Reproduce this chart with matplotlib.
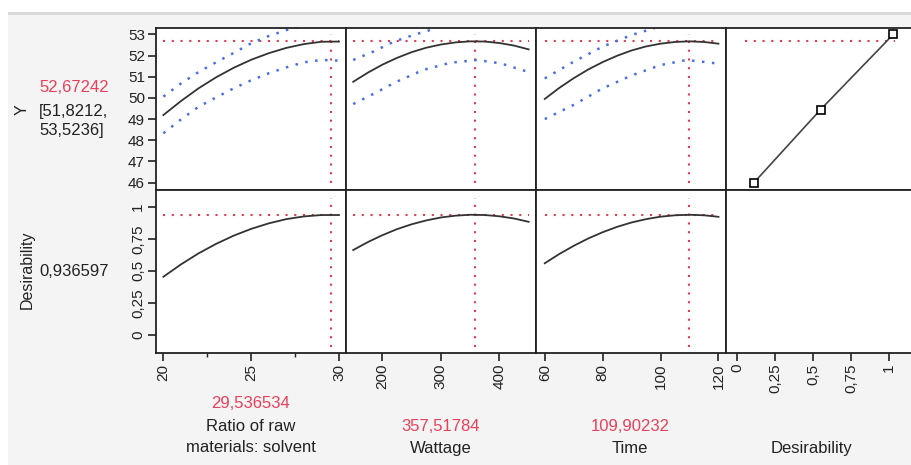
import matplotlib
matplotlib.use("Agg")
import matplotlib.pyplot as plt
from matplotlib.patches import Rectangle

plt.rcParams['font.family'] = ['Liberation Sans', 'DejaVu Sans']

# ---------------- data ----------------
opt_y = 52.67242
opt_d = 0.936597
ci_text = "[51,8212,\n53,5236]"

ratio_opt = 29.536534
ratio_x = [20, 21, 22, 23, 24, 25, 26, 27, 28, 29, 30]
ratio_y = [49.19, 49.85, 50.45, 50.97, 51.42, 51.80, 52.11, 52.36, 52.54, 52.65, 52.66]
ratio_up_x = [20, 21, 22, 23, 24, 25, 26, 27, 27.6]
ratio_up_y = [50.06, 50.68, 51.22, 51.68, 52.12, 52.58, 52.92, 53.20, 53.32]
ratio_lo_x = [20, 21, 22, 23, 24, 25, 26, 27, 28, 29, 30]
ratio_lo_y = [48.33, 48.98, 49.58, 50.02, 50.45, 50.83, 51.16, 51.44, 51.68, 51.79, 51.76]
ratio_d = [0.454, 0.550, 0.636, 0.710, 0.774, 0.827, 0.870, 0.903, 0.924, 0.935, 0.935]

watt_opt = 357.51784
watt_x = [150, 175, 200, 225, 250, 275, 300, 325, 350, 375, 400, 425, 450]
watt_y = [50.76, 51.19, 51.57, 51.89, 52.16, 52.37, 52.52, 52.62, 52.67, 52.66, 52.59, 52.47, 52.29]
watt_up_x = [150, 184, 219, 253, 293]
watt_up_y = [51.79, 52.18, 52.65, 52.97, 53.30]
watt_lo_x = [150, 184, 224, 270, 316, 362, 402, 450]
watt_lo_y = [49.71, 50.18, 50.76, 51.32, 51.66, 51.79, 51.63, 51.22]
watt_d = [0.662, 0.724, 0.778, 0.825, 0.863, 0.893, 0.916, 0.930, 0.937, 0.935, 0.925, 0.908, 0.882]

time_opt = 109.90232
time_x = [60, 65, 70, 75, 80, 85, 90, 95, 100, 105, 110, 115, 120]
time_y = [49.95, 50.47, 50.93, 51.34, 51.69, 51.99, 52.24, 52.43, 52.56, 52.64, 52.67, 52.64, 52.56]
time_up_x = [60, 70, 80, 90, 98]
time_up_y = [50.92, 51.71, 52.42, 52.97, 53.30]
time_lo_x = [60, 70, 80, 90, 100, 109, 118, 120]
time_lo_y = [49.00, 49.67, 50.45, 51.06, 51.55, 51.79, 51.65, 51.60]
time_d = [0.559, 0.631, 0.695, 0.752, 0.801, 0.843, 0.877, 0.903, 0.922, 0.933, 0.937, 0.933, 0.921]

des_x = [0.11, 0.55, 1.03]
des_y = [46, 49.45, 53]

factor_labels = ["Ratio of raw\nmaterials: solvent", "Wattage", "Time", "Desirability"]
factor_values = ["29,536534", "357,51784", "109,90232", None]

y_ticks = [46, 47, 48, 49, 50, 51, 52, 53]
d_ticks = [0, 0.25, 0.5, 0.75, 1]
d_tick_labels = ["0", "0,25", "0,5", "0,75", "1"]
ratio_ticks = [20, 25, 30]
ratio_minor = [22.5, 27.5]
watt_ticks = [200, 300, 400]
time_ticks = [60, 80, 100, 120]

# ---------------- style ----------------
RED = '#e23a52'
RED_TXT = '#e8405a'
BLUE = '#4a6ee6'
CURVE = '#333333'
BG = '#f4f4f4'
W, H = 911, 465

fig = plt.figure(figsize=(W / 100, H / 100), dpi=100, facecolor=BG)
fig.patches.append(Rectangle((0, 1 - 12 / H), 1, 12 / H, transform=fig.transFigure,
                             facecolor='white', edgecolor='none', zorder=-5))
fig.patches.append(Rectangle((0, 0), 8 / W, 1, transform=fig.transFigure,
                             facecolor='white', edgecolor='none', zorder=-5))
fig.patches.append(Rectangle((8 / W, 1 - 15 / H), 1, 2.5 / H, transform=fig.transFigure,
                             facecolor='#d9d9d9', edgecolor='none', zorder=-4))


def rect(x0, x1, y0, y1):
    return [x0 / W, 1 - y1 / H, (x1 - x0) / W, (y1 - y0) / H]


cols = [(156, 346), (346, 535.5), (535.5, 726), (726, 916)]
rows = [(28, 190), (190, 352.7)]
xlims = [(19.58, 30.4), (137.7, 461.7), (56.8, 122.6), (-0.075, 1.18)]
ylims = [(45.65, 53.3), (-0.138, 1.13)]

axes = [[None] * 4 for _ in range(2)]
for r in range(2):
    for c in range(4):
        ax = fig.add_axes(rect(cols[c][0], cols[c][1], rows[r][0], rows[r][1]))
        ax.set_facecolor('white')
        ax.set_xlim(*xlims[c])
        ax.set_ylim(*ylims[r])
        for s in ax.spines.values():
            s.set_linewidth(1.3)
            s.set_color('#222222')
        ax.tick_params(direction='out', length=6, width=1.2, colors='#222222',
                       labelsize=11, pad=2)
        ax.tick_params(which='minor', direction='out', length=3, width=1.0, colors='#222222')
        if c > 0:
            ax.set_yticks([])
        if r == 0:
            ax.set_xticks([])
        axes[r][c] = ax

dot_red = dict(color=RED, linestyle=(0, (1, 3.2)), linewidth=1.5)
dot_blue = dict(color=BLUE, linestyle=(0, (1, 3.0)), linewidth=1.8)

a = axes[0][0]
a.set_yticks(y_ticks)
a.set_yticklabels([str(v) for v in y_ticks])
a = axes[1][0]
a.set_yticks(d_ticks)
a.set_yticklabels(d_tick_labels, rotation=90, va='center')

xt = [ratio_ticks, watt_ticks, time_ticks, d_ticks]
xtl = [[str(v) for v in ratio_ticks], [str(v) for v in watt_ticks],
       [str(v) for v in time_ticks], d_tick_labels]
for c in range(4):
    a = axes[1][c]
    a.set_xticks(xt[c])
    a.set_xticklabels(xtl[c], rotation=90)
axes[1][0].set_xticks(ratio_minor, minor=True)

data = [
    (ratio_x, ratio_y, ratio_up_x, ratio_up_y, ratio_lo_x, ratio_lo_y, ratio_d, ratio_opt),
    (watt_x, watt_y, watt_up_x, watt_up_y, watt_lo_x, watt_lo_y, watt_d, watt_opt),
    (time_x, time_y, time_up_x, time_up_y, time_lo_x, time_lo_y, time_d, time_opt),
]
for c, (x, y, ux, uy, lx, ly, d, opt) in enumerate(data):
    a = axes[0][c]
    a.plot([x[0], x[-1]], [opt_y, opt_y], **dot_red, zorder=1)
    a.plot([opt, opt], [46, 53], **dot_red, zorder=1)
    a.plot(ux, uy, **dot_blue, zorder=2)
    a.plot(lx, ly, **dot_blue, zorder=2)
    a.plot(x, y, color=CURVE, linewidth=1.3, zorder=3)
    b = axes[1][c]
    b.plot([x[0], x[-1]], [opt_d, opt_d], **dot_red, zorder=1)
    b.plot([opt, opt], [-0.09, 1.07], **dot_red, zorder=1)
    b.plot(x, d, color=CURVE, linewidth=1.3, zorder=3)

a = axes[0][3]
a.plot([0.05, 1.04], [opt_y, opt_y], **dot_red, zorder=1)
a.plot(des_x, des_y, color='#444444', linewidth=1.2, marker='s', markersize=5.5,
       markerfacecolor='white', markeredgecolor='black', markeredgewidth=1.2, zorder=3,
       clip_on=False)

fig.text(22 / W, 1 - 110 / H, "Y", rotation=90, ha='center', va='center', fontsize=11.5,
         color='#222222')
fig.text(39 / W, 1 - 88 / H, "52,67242", ha='left', va='center', fontsize=12, color=RED_TXT)
fig.text(39 / W, 1 - 121 / H, ci_text, ha='left', va='center', fontsize=12,
         color='#222222', linespacing=1.35)
fig.text(27 / W, 1 - 270 / H, "Desirability", rotation=90, ha='center', va='center',
         fontsize=11.5, color='#222222')
fig.text(39 / W, 1 - 271 / H, "0,936597", ha='left', va='center', fontsize=12, color='#222222')

centers = [251, 441, 630, 812]
for c in range(4):
    lab = factor_labels[c]
    nlines = lab.count("\n") + 1
    if nlines == 2:
        fig.text(centers[c] / W, 1 - 437 / H, lab, ha='center', va='center', fontsize=12,
                 color='#222222', linespacing=1.45)
        val_y = 403
    else:
        fig.text(centers[c] / W, 1 - 448 / H, lab, ha='center', va='center', fontsize=12,
                 color='#222222')
        val_y = 426.5
    if factor_values[c]:
        fig.text(centers[c] / W, 1 - val_y / H, factor_values[c], ha='center', va='center',
                 fontsize=12, color=RED_TXT)

fig.savefig("out.png", dpi=100, facecolor=BG)
